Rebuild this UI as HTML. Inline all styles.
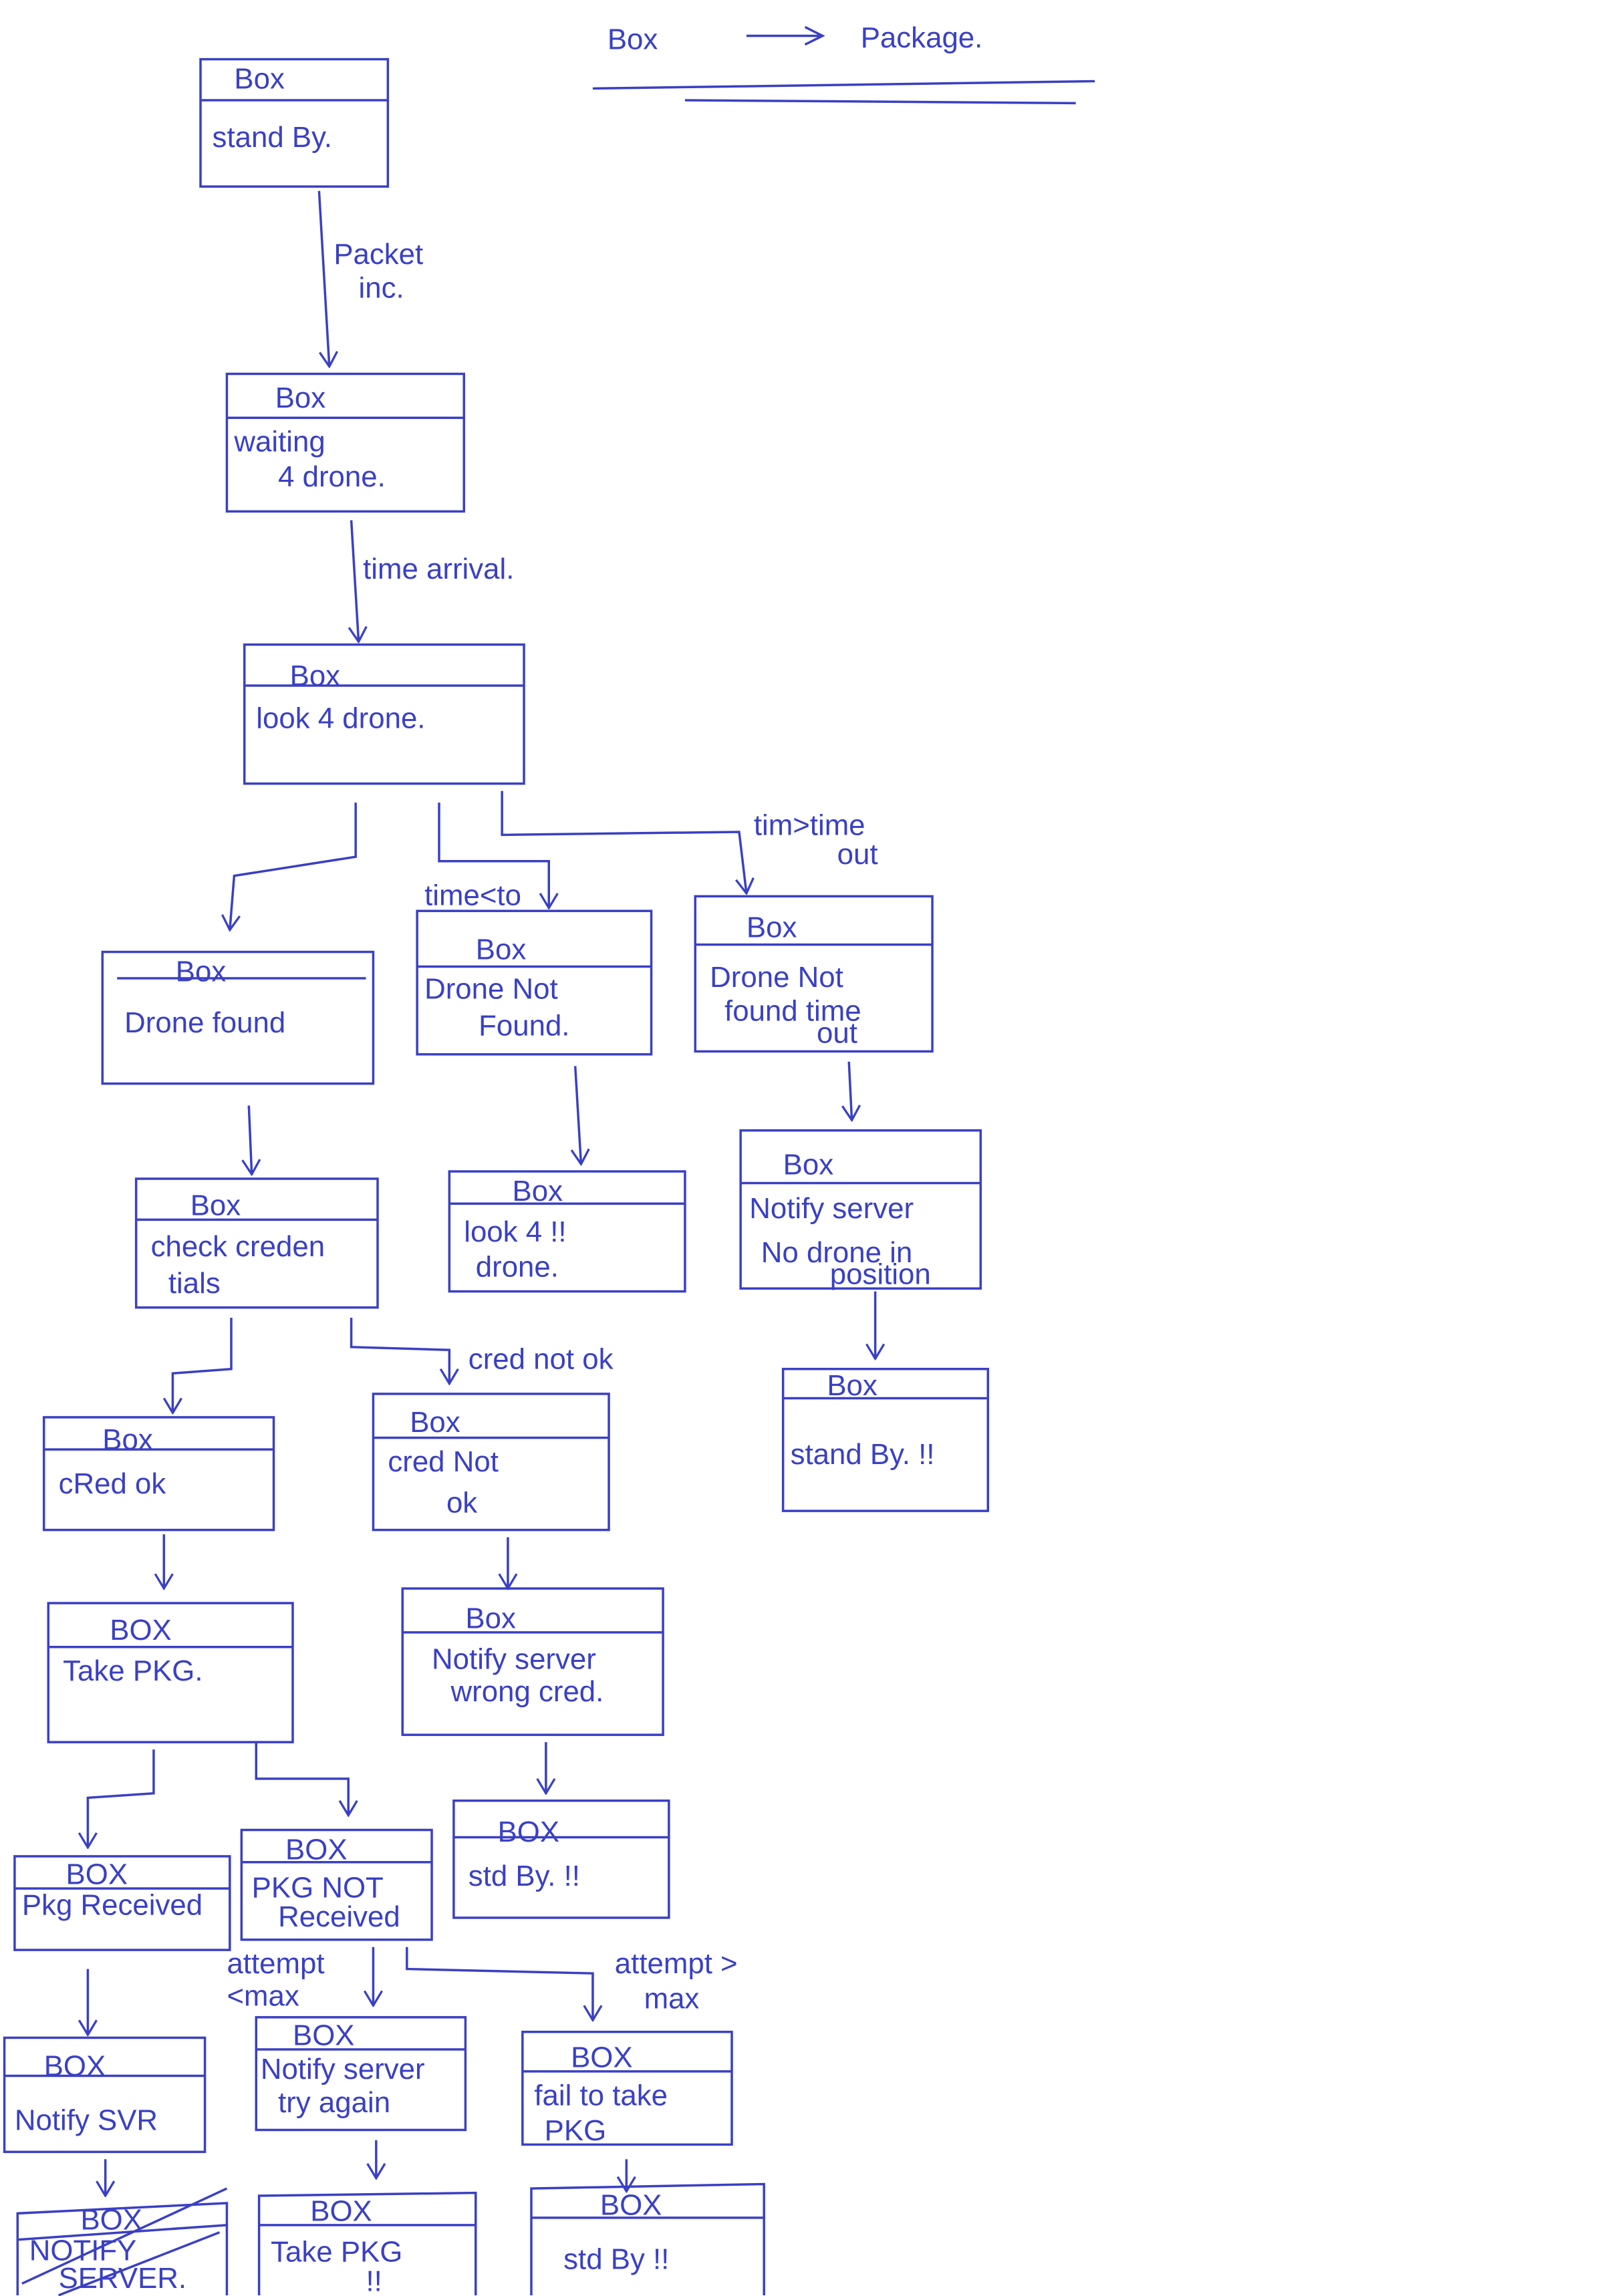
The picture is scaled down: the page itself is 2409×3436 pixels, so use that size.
<!DOCTYPE html>
<html><head><meta charset="utf-8"><style>
html,body{margin:0;padding:0;background:#fff;width:2409px;height:3436px;overflow:hidden}
svg{display:block}
text{font-family:"Liberation Sans",sans-serif;fill:#3a40c4;font-size:20px}
.l{stroke:#3a40c4;stroke-width:1.6;fill:none}
</style></head><body>
<svg width="2409" height="3436" viewBox="0 0 1100 1568" xmlns="http://www.w3.org/2000/svg">
<defs><marker id="a" viewBox="0 0 12 14" refX="11" refY="7" markerWidth="12" markerHeight="14" orient="auto" markerUnits="userSpaceOnUse"><path d="M1,1 L11,7 L1,13" stroke="#3a40c4" stroke-width="1.5" fill="none"/></marker></defs>
<g class="l">
<path d="M405,60 L748,55 M468,68 L735,70"/>
<path d="M510,24 L560,24 M550,18 L562,24 L550,30"/>
<rect x="137" y="40" width="128" height="87"/><path d="M137,68 L265,68"/>
<rect x="155" y="255" width="162" height="94"/><path d="M155,285 L317,285"/>
<rect x="167" y="440" width="191" height="95"/><path d="M167,468 L358,468"/>
<rect x="70" y="650" width="185" height="90"/><path d="M80,668 L250,668"/>
<rect x="285" y="622" width="160" height="98"/><path d="M285,660 L445,660"/>
<rect x="475" y="612" width="162" height="106"/><path d="M475,645 L637,645"/>
<rect x="93" y="805" width="165" height="88"/><path d="M93,833 L258,833"/>
<rect x="307" y="800" width="161" height="82"/><path d="M307,822 L468,822"/>
<rect x="506" y="772" width="164" height="108"/><path d="M506,808 L670,808"/>
<rect x="535" y="935" width="140" height="97"/><path d="M535,955 L675,955"/>
<rect x="30" y="968" width="157" height="77"/><path d="M30,990 L187,990"/>
<rect x="255" y="952" width="161" height="93"/><path d="M255,982 L416,982"/>
<rect x="33" y="1095" width="167" height="95"/><path d="M33,1125 L200,1125"/>
<rect x="275" y="1085" width="178" height="100"/><path d="M275,1115 L453,1115"/>
<rect x="310" y="1230" width="147" height="80"/><path d="M310,1255 L457,1255"/>
<rect x="10" y="1268" width="147" height="64"/><path d="M10,1290 L157,1290"/>
<rect x="165" y="1250" width="130" height="75"/><path d="M165,1272 L295,1272"/>
<rect x="3" y="1392" width="137" height="78"/><path d="M3,1418 L140,1418"/>
<rect x="175" y="1378" width="143" height="77"/><path d="M175,1400 L318,1400"/>
<rect x="357" y="1388" width="143" height="77"/><path d="M357,1415 L500,1415"/>
<path d="M12,1568 L12,1512 L155,1505 L155,1568 M12,1530 L155,1520 M15,1560 L155,1495 M40,1568 L150,1525"/>
<path d="M177,1568 L177,1500 L325,1498 L325,1568 M177,1520 L325,1520"/>
<path d="M363,1568 L363,1495 L522,1492 L522,1568 M363,1515 L522,1515"/>
<path d="M218,130 L225,250" marker-end="url(#a)"/>
<path d="M240,355 L245,438" marker-end="url(#a)"/>
<path d="M243,548 L243,585 L160,598 L157,635" marker-end="url(#a)"/>
<path d="M300,548 L300,588 L375,588 L375,620" marker-end="url(#a)"/>
<path d="M343,540 L343,570 L505,568 L510,610" marker-end="url(#a)"/>
<path d="M170,755 L172,802" marker-end="url(#a)"/>
<path d="M393,728 L397,795" marker-end="url(#a)"/>
<path d="M580,725 L582,765" marker-end="url(#a)"/>
<path d="M598,882 L598,928" marker-end="url(#a)"/>
<path d="M158,900 L158,935 L118,938 L118,965" marker-end="url(#a)"/>
<path d="M240,900 L240,920 L307,922 L307,945" marker-end="url(#a)"/>
<path d="M112,1048 L112,1085" marker-end="url(#a)"/>
<path d="M347,1050 L347,1085" marker-end="url(#a)"/>
<path d="M373,1190 L373,1225" marker-end="url(#a)"/>
<path d="M105,1195 L105,1225 L60,1228 L60,1262" marker-end="url(#a)"/>
<path d="M175,1190 L175,1215 L238,1215 L238,1240" marker-end="url(#a)"/>
<path d="M60,1345 L60,1390" marker-end="url(#a)"/>
<path d="M255,1330 L255,1370" marker-end="url(#a)"/>
<path d="M278,1330 L278,1345 L405,1348 L405,1380" marker-end="url(#a)"/>
<path d="M72,1475 L72,1500" marker-end="url(#a)"/>
<path d="M257,1462 L257,1488" marker-end="url(#a)"/>
<path d="M428,1475 L428,1497" marker-end="url(#a)"/>
</g>
<text x="415" y="33" font-size="36">Box</text><text x="588" y="32" font-size="36">Package.</text>
<text x="160" y="60">Box</text><text x="145" y="100">stand By.</text>
<text x="228" y="180">Packet</text><text x="245" y="203">inc.</text>
<text x="188" y="278">Box</text><text x="160" y="308">waiting</text><text x="190" y="332">4 drone.</text>
<text x="248" y="395">time arrival.</text>
<text x="198" y="468">Box</text><text x="175" y="497">look 4 drone.</text>
<text x="290" y="618" font-size="18">time&lt;to</text>
<text x="515" y="570" font-size="18">tim&gt;time</text><text x="572" y="590" font-size="18">out</text>
<text x="120" y="670">Box</text><text x="85" y="705">Drone found</text>
<text x="325" y="655">Box</text><text x="290" y="682">Drone Not</text><text x="327" y="707">Found.</text>
<text x="510" y="640">Box</text><text x="485" y="674">Drone Not</text><text x="495" y="697">found time</text><text x="558" y="712" font-size="16">out</text>
<text x="130" y="830">Box</text><text x="103" y="858">check creden</text><text x="115" y="883">tials</text>
<text x="350" y="820">Box</text><text x="317" y="848">look 4 !!</text><text x="325" y="872">drone.</text>
<text x="535" y="802">Box</text><text x="512" y="832">Notify server</text><text x="520" y="862">No drone in</text><text x="567" y="877" font-size="17">position</text>
<text x="565" y="953">Box</text><text x="540" y="1000">stand By. !!</text>
<text x="320" y="935" font-size="17">cred not ok</text>
<text x="70" y="990">Box</text><text x="40" y="1020">cRed ok</text>
<text x="280" y="978">Box</text><text x="265" y="1005">cred Not</text><text x="305" y="1033">ok</text>
<text x="75" y="1120">BOX</text><text x="43" y="1148">Take PKG.</text>
<text x="318" y="1112">Box</text><text x="295" y="1140">Notify server</text><text x="308" y="1162">wrong cred.</text>
<text x="340" y="1258">BOX</text><text x="320" y="1288">std By. !!</text>
<text x="45" y="1287">BOX</text><text x="15" y="1308">Pkg Received</text>
<text x="195" y="1270">BOX</text><text x="172" y="1296">PKG NOT</text><text x="190" y="1316">Received</text>
<text x="155" y="1348" font-size="18">attempt</text><text x="155" y="1370" font-size="16">&lt;max</text>
<text x="420" y="1348">attempt &gt;</text><text x="440" y="1372">max</text>
<text x="30" y="1418">BOX</text><text x="10" y="1455">Notify SVR</text>
<text x="200" y="1397">BOX</text><text x="178" y="1420">Notify server</text><text x="190" y="1443">try again</text>
<text x="390" y="1412">BOX</text><text x="365" y="1438">fail to take</text><text x="372" y="1462">PKG</text>
<text x="55" y="1523" font-size="16">BOX</text><text x="20" y="1544" font-size="16">NOTIFY</text><text x="40" y="1563" font-size="16">SERVER.</text>
<text x="212" y="1517">BOX</text><text x="185" y="1545">Take PKG</text><text x="250" y="1565">!!</text>
<text x="410" y="1513">BOX</text><text x="385" y="1550">std By !!</text>
</svg>
</body></html>
